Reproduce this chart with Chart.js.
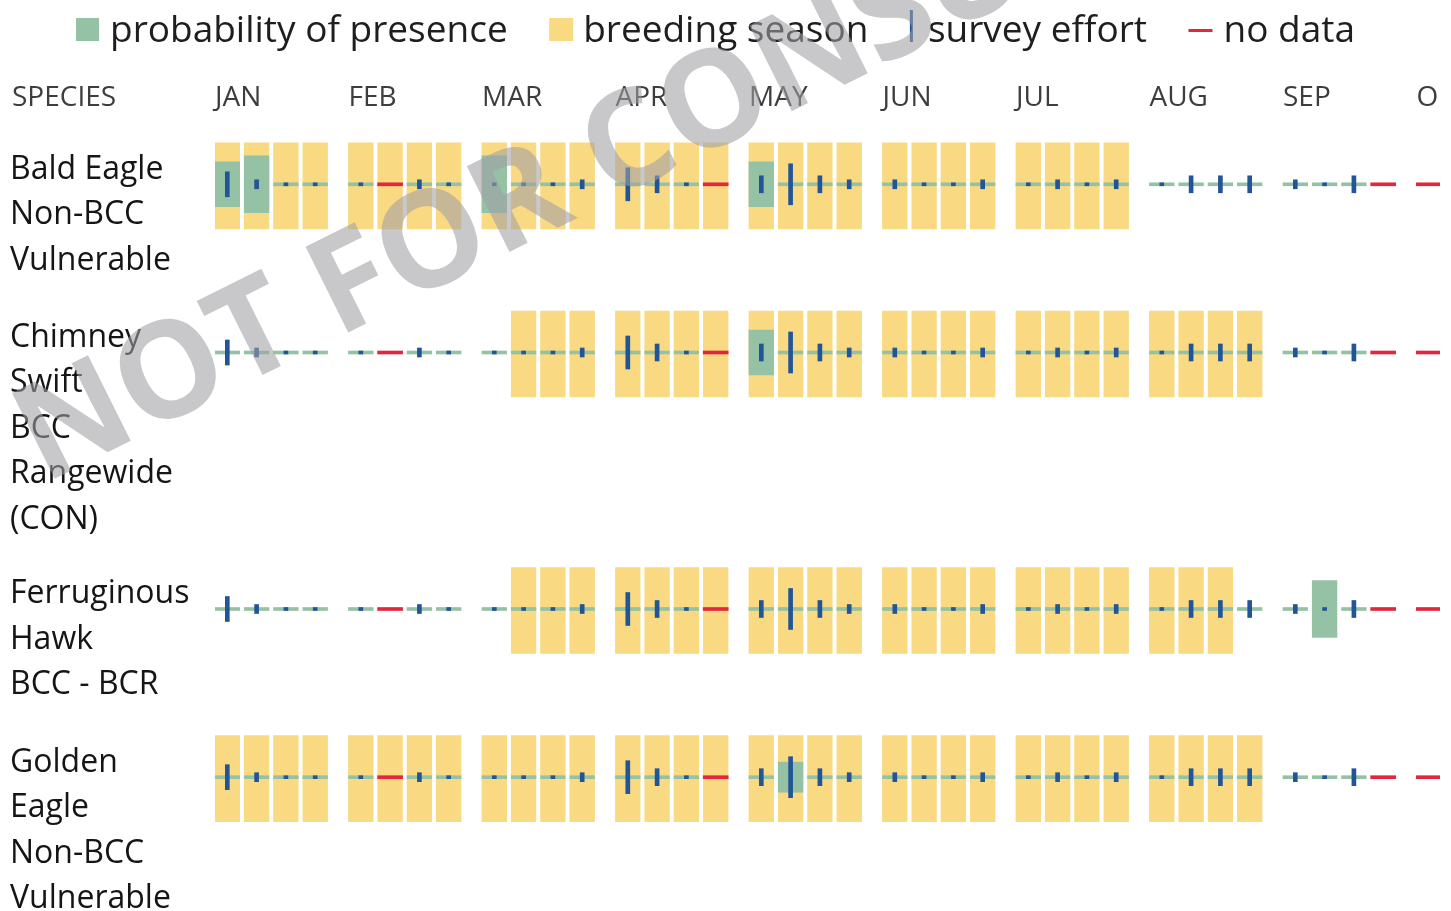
<!DOCTYPE html>
<html><head><meta charset="utf-8">
<script src="https://cdn.jsdelivr.net/npm/chart.js@4.4.1/dist/chart.umd.min.js"></script>
<style>html,body{margin:0;padding:0;background:#fff;overflow:hidden}#wrap{width:1451px;height:911px;position:relative}</style>
</head><body><div id="wrap"><canvas id="c" width="1451" height="911"></canvas></div>
<script>
// ---------- DATA ----------
const monthLabels = ['JAN','FEB','MAR','APR','MAY','JUN','JUL','AUG','SEP','O'];
const speciesLabels = [
  ['Bald Eagle','Non-BCC','Vulnerable'],
  ['Chimney','Swift','BCC','Rangewide','(CON)'],
  ['Ferruginous','Hawk','BCC - BCR'],
  ['Golden','Eagle','Non-BCC','Vulnerable']
];
const legendLabels = ['probability of presence','breeding season','survey effort','no data'];
// 37 weekly slots: Jan w1..w4, Feb w1..w4, ..., Sep w1..w4, Oct w1
const breedingBaldEagle       = [1,1,1,1, 1,1,1,1, 1,1,1,1, 1,1,1,1, 1,1,1,1, 1,1,1,1, 1,1,1,1, 0,0,0,0, 0,0,0,0, 0];
const breedingChimneySwift    = [0,0,0,0, 0,0,0,0, 0,1,1,1, 1,1,1,1, 1,1,1,1, 1,1,1,1, 1,1,1,1, 1,1,1,1, 0,0,0,0, 0];
const breedingFerruginousHawk = [0,0,0,0, 0,0,0,0, 0,1,1,1, 1,1,1,1, 1,1,1,1, 1,1,1,1, 1,1,1,1, 1,1,1,0, 0,0,0,0, 0];
const breedingGoldenEagle     = [1,1,1,1, 1,1,1,1, 1,1,1,1, 1,1,1,1, 1,1,1,1, 1,1,1,1, 1,1,1,1, 1,1,1,1, 0,0,0,0, 0];
// probability of presence (fraction of the week box)
const presenceBaldEagle       = [0.52,0.66,0,0, 0,0,0,0, 0.66,0,0,0, 0,0,0,0, 0.52,0,0,0, 0,0,0,0, 0,0,0,0, 0,0,0,0, 0,0,0,0, 0];
const presenceChimneySwift    = [0,0,0,0, 0,0,0,0, 0,0,0,0, 0,0,0,0, 0.52,0,0,0, 0,0,0,0, 0,0,0,0, 0,0,0,0, 0,0,0,0, 0];
const presenceFerruginousHawk = [0,0,0,0, 0,0,0,0, 0,0,0,0, 0,0,0,0, 0,0,0,0, 0,0,0,0, 0,0,0,0, 0,0,0,0, 0,0.66,0,0, 0];
const presenceGoldenEagle     = [0,0,0,0, 0,0,0,0, 0,0,0,0, 0,0,0,0, 0,0.35,0,0, 0,0,0,0, 0,0,0,0, 0,0,0,0, 0,0,0,0, 0];
// survey effort level (null = no data)
const surveyEffort = [4,2,1,1, 1,null,2,1, 1,1,1,2, 5,3,1,null, 3,6,3,2, 2,1,1,2, 1,2,1,2, 1,3,3,3, 2,1,3,null, null];

const breedingRows = [breedingBaldEagle, breedingChimneySwift, breedingFerruginousHawk, breedingGoldenEagle];
const presenceRows = [presenceBaldEagle, presenceChimneySwift, presenceFerruginousHawk, presenceGoldenEagle];

// ---------- STYLE / LAYOUT ----------
const FONT = "'Open Sans', sans-serif";
const YELLOW = '#f9d981', GREEN = '#95c1a4', BLUE = '#215597', RED = '#e3263e';
const CHART_TOP = 120, CANVAS_H = 911;
const MONTH_PX = 133.5;                // width of one month on x
const WEEK_OFF = 12.3 / MONTH_PX, WEEK_STEP = 29.3 / MONTH_PX;
const X_MAX = (1440 - 215) / MONTH_PX;
const LINE_H = 45.5, ROW_LINE = 44.15, ROW_PAD = 35.75, FIRST_CENTER = 64.3, LABEL_SHIFT = 14.8;
const BOX_UP = 41.5, BOX_DOWN = 44.5, BOX_H = 86, THIN = 3;

const rowCenters = [];
{ let c = FIRST_CENTER; speciesLabels.forEach(l => { rowCenters.push(c); c += l.length * ROW_LINE + ROW_PAD; }); }
const labelTicks = speciesLabels.map((l, i) => rowCenters[i] - LABEL_SHIFT + (l.length - 1) * LINE_H / 2);
const slotX = i => Math.floor(i / 4) + WEEK_OFF + (i % 4) * WEEK_STEP;
const effortH = e => Math.max(THIN, 8 * e - 7);

const yellowData = [], greenData = [], redData = [], blueData = [];
breedingRows.forEach((row, r) => {
  const c = rowCenters[r];
  row.forEach((b, i) => {
    const x = slotX(i);
    if (b) yellowData.push({x, y: [c - BOX_UP, c + BOX_DOWN]});
    const e = surveyEffort[i];
    if (e === null) { redData.push({x, y: [c - THIN / 2, c + THIN / 2]}); return; }
    const ph = Math.max(THIN, presenceRows[r][i] * BOX_H);
    greenData.push({x, y: [c - ph / 2, c + ph / 2]});
    const eh = effortH(e);
    blueData.push({x, y: [c - eh / 2, c + eh / 2]});
  });
});

const overlay = {
  id: 'overlay',
  afterDraw(chart) {
    const ctx = chart.ctx;
    ctx.save();
    // legend
    ctx.font = `37px ${FONT}`;
    ctx.textBaseline = 'alphabetic';
    let x = 76; const base = 42;
    const glyphs = [
      {w: 23, gap: 11, draw: (x) => { ctx.fillStyle = GREEN; ctx.fillRect(x, 18, 23, 23); }},
      {w: 24, gap: 10, draw: (x) => { ctx.fillStyle = YELLOW; ctx.fillRect(x, 18, 24, 23); }},
      {w: 3, gap: 15, draw: (x) => { ctx.fillStyle = BLUE; ctx.fillRect(x, 10, 3, 32); }},
      {w: 24, gap: 11, draw: (x) => { ctx.fillStyle = RED; ctx.fillRect(x, 29, 24, 3); }}
    ];
    legendLabels.forEach((t, i) => {
      const g = glyphs[i];
      g.draw(x); x += g.w + g.gap;
      ctx.fillStyle = '#1e1e1e';
      ctx.fillText(t, x, base);
      x += ctx.measureText(t).width + 41.5;
    });
    // header
    const xs = chart.scales.x;
    const fs = xs.options.ticks.font.size;
    ctx.font = `${fs}px ${FONT}`;
    ctx.fillStyle = xs.options.ticks.color;
    ctx.textBaseline = 'middle';
    ctx.textAlign = 'left';
    ctx.fillText('SPECIES', 12, xs.bottom - xs.options.ticks.padding - fs * 1.2 / 2);
    // watermark
    ctx.translate(44, 484);
    ctx.rotate(-26.5 * Math.PI / 180);
    ctx.font = `700 134px ${FONT}`;
    ctx.textBaseline = 'alphabetic';
    ctx.fillStyle = 'rgba(160,160,165,0.58)';
    ctx.fillText('NOT FOR CONSULTATION', 0, 0);
    ctx.restore();
  }
};

function build() {
  new Chart(document.getElementById('c'), {
    type: 'bar',
    data: {
      datasets: [
        {label: 'survey effort', data: blueData, backgroundColor: BLUE, barThickness: 4, grouped: false, order: 0},
        {label: 'no data', data: redData, backgroundColor: RED, barThickness: 25, grouped: false, order: 1},
        {label: 'probability of presence', data: greenData, backgroundColor: GREEN, barThickness: 24.7, grouped: false, order: 2},
        {label: 'breeding season', data: yellowData, backgroundColor: YELLOW, barThickness: 24.7, grouped: false, order: 3}
      ]
    },
    options: {
      responsive: false, animation: false,
      layout: {padding: {left: 10, right: 11, top: 70, bottom: 0}},
      plugins: {legend: {display: false}, tooltip: {enabled: false}},
      scales: {
        x: {
          type: 'linear', position: 'top', min: 0, max: X_MAX, offset: false,
          grid: {display: false, drawTicks: false}, border: {display: false},
          ticks: {autoSkip: false, maxRotation: 0, align: 'start', padding: 5, color: '#3d3d3d',
                  font: {family: FONT, size: 28}, callback: v => monthLabels[v] ?? ''},
          afterBuildTicks: s => { s.ticks = monthLabels.map((m, i) => ({value: i})); },
          afterFit: s => { s.height = 50; s.paddingLeft = 0; s.paddingRight = 0; }
        },
        y: {
          type: 'linear', reverse: true, min: 0, max: CANVAS_H - CHART_TOP, offset: false,
          grid: {display: false, drawTicks: false}, border: {display: false},
          ticks: {autoSkip: false, crossAlign: 'far', padding: 0, color: '#151515',
                  font: {family: FONT, size: 32, lineHeight: LINE_H / 32},
                  callback: (v, i) => speciesLabels[i]},
          afterBuildTicks: s => { s.ticks = labelTicks.map(v => ({value: v})); },
          afterFit: s => { s.width = 205; s.paddingTop = 0; s.paddingBottom = 0; }
        }
      }
    },
    plugins: [overlay]
  });
}
(document.fonts && document.fonts.load) ? Promise.all([document.fonts.load(`30px ${FONT}`), document.fonts.load(`700 134px ${FONT}`)]).then(build, build) : build();
</script></body></html>
